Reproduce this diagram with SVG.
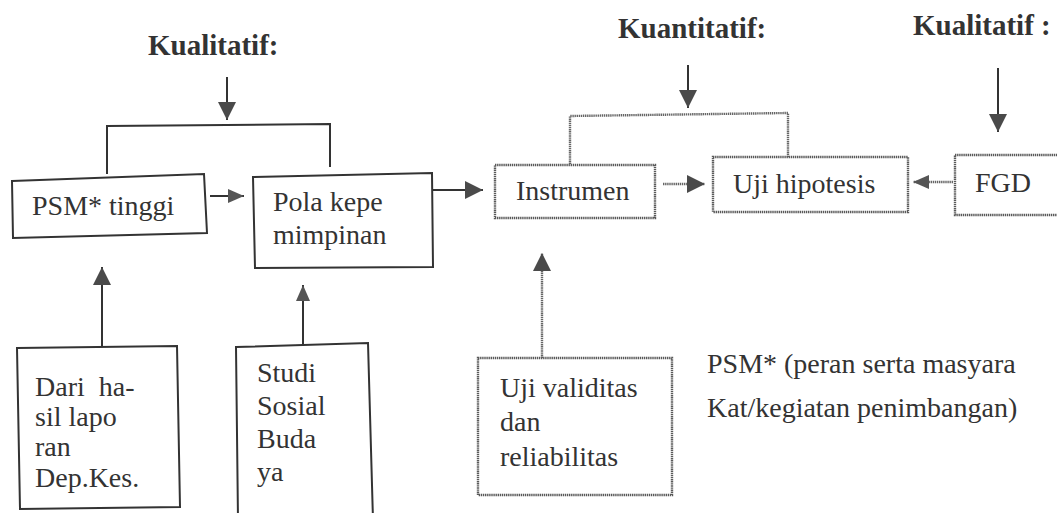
<svg xmlns="http://www.w3.org/2000/svg" width="1057" height="513" viewBox="0 0 1057 513">
<style>
.t{font-family:"Liberation Serif","Times New Roman",serif;font-size:28px;fill:#333}
.h{font-family:"Liberation Serif","Times New Roman",serif;font-size:29px;font-weight:bold;fill:#333}
.solid{fill:#fff;stroke:#333;stroke-width:2}
.dot{fill:#fff;stroke:#5a5a5a;stroke-width:2.4;stroke-dasharray:1.4 0.7}
.ln{fill:none;stroke:#333;stroke-width:2}
.dl{fill:none;stroke:#666;stroke-width:2.4;stroke-dasharray:1.4 0.7}
</style>
<defs>
<marker id="big" markerUnits="userSpaceOnUse" markerWidth="20" markerHeight="20" refX="18" refY="9" orient="auto"><path d="M0,0 L18,9 L0,18 z" fill="#4a4a4a"/></marker>
<marker id="sm" markerUnits="userSpaceOnUse" markerWidth="18" markerHeight="16" refX="16" refY="7" orient="auto"><path d="M0,0 L16,7 L0,14 z" fill="#555"/></marker>
</defs>
<rect width="1057" height="513" fill="#fff"/>
<g id="labels">
<text class="h" x="148" y="55">Kualitatif:</text>
<text class="h" x="618" y="38" font-size="28.5">Kuantitatif:</text>
<text class="h" x="913" y="35" xml:space="preserve">Kualitatif :</text>
</g>
<g id="connectors">
<line class="ln" x1="227" y1="77" x2="227" y2="120" marker-end="url(#big)"/>
<polyline class="ln" points="107,174 107,126 330,124 330,167"/>
<line class="ln" x1="210" y1="196" x2="244" y2="196" marker-end="url(#sm)"/>
<line class="ln" x1="432" y1="190" x2="483" y2="190" marker-end="url(#big)"/>
<line class="ln" x1="688" y1="65" x2="688" y2="108" marker-end="url(#big)"/>
<polyline class="dl" points="570,164 570,116 788,113 788,157"/>
<line class="dl" x1="663" y1="184" x2="705" y2="184" marker-end="url(#big)"/>
<line class="dl" x1="953" y1="182" x2="913" y2="182" marker-end="url(#sm)"/>
<line class="ln" x1="998" y1="68" x2="998" y2="132" marker-end="url(#big)"/>
<line class="ln" x1="102" y1="348" x2="102" y2="267" marker-end="url(#big)"/>
<line class="ln" x1="303" y1="346" x2="303" y2="285" marker-end="url(#sm)"/>
<line class="dl" x1="542" y1="358" x2="542" y2="253" marker-end="url(#big)"/>
</g>
<g id="psm">
<polygon class="solid" points="12,181 204,174 207,233 13,238"/>
<text class="t" x="32" y="215">PSM* tinggi</text>
</g>
<g id="pola">
<polygon class="solid" points="253,177 432,173 433,267 255,268"/>
<text class="t" x="273" y="211">Pola kepe</text>
<text class="t" x="273" y="244">mimpinan</text>
</g>
<g id="instrumen">
<rect class="dot" x="495" y="165" width="160" height="53"/>
<text class="t" x="516" y="200">Instrumen</text>
</g>
<g id="uji-hipotesis">
<rect class="dot" x="713" y="157" width="195" height="55"/>
<text class="t" x="733" y="193">Uji hipotesis</text>
</g>
<g id="fgd">
<rect class="dot" x="955" y="155" width="110" height="60"/>
<text class="t" x="975" y="192">FGD</text>
</g>
<g id="dari">
<polygon class="solid" points="17,348 177,346 180,507 20,509"/>
<text class="t" x="35" y="396" xml:space="preserve">Dari  ha-</text>
<text class="t" x="35" y="426">sil lapo</text>
<text class="t" x="35" y="456">ran</text>
<text class="t" x="35" y="487">Dep.Kes.</text>
</g>
<g id="studi">
<polygon class="solid" points="236,347 368,343 373,520 238,520"/>
<text class="t" x="257" y="382">Studi</text>
<text class="t" x="257" y="415">Sosial</text>
<text class="t" x="257" y="448">Buda</text>
<text class="t" x="257" y="481">ya</text>
</g>
<g id="uji-validitas">
<rect class="dot" x="478" y="358" width="194" height="137"/>
<text class="t" x="500" y="397">Uji validitas</text>
<text class="t" x="500" y="431">dan</text>
<text class="t" x="500" y="466">reliabilitas</text>
</g>
<g id="note">
<text class="t" x="707" y="373">PSM* (peran serta masyara</text>
<text class="t" x="707" y="417">Kat/kegiatan penimbangan)</text>
</g>
</svg>
